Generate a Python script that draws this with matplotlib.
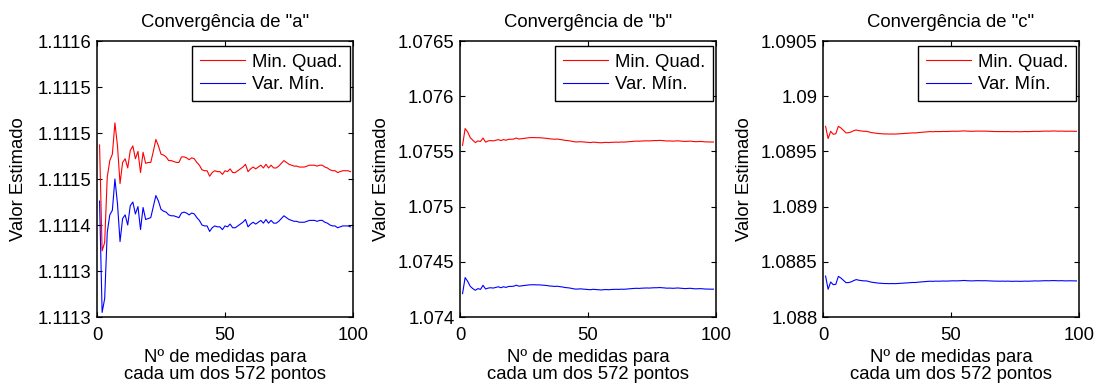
import matplotlib
matplotlib.use('Agg')
import matplotlib.pyplot as plt

plt.rcParams['font.family'] = ['Liberation Sans', 'DejaVu Sans']

# Estimativas de "a" (Min. Quad. e Var. Mín.)
a_min_quad = [
    1.111487, 1.111372, 1.111381, 1.111452, 1.111470, 1.111477, 1.111511, 1.111486, 1.111445, 1.111468,
    1.111472, 1.111462, 1.111481, 1.111486, 1.111472, 1.111480, 1.111457, 1.111479, 1.111467, 1.111468,
    1.111468, 1.111480, 1.111493, 1.111486, 1.111477, 1.111476, 1.111474, 1.111470, 1.111470, 1.111469,
    1.111468, 1.111468, 1.111474, 1.111474, 1.111473, 1.111471, 1.111473, 1.111472, 1.111468, 1.111465,
    1.111460, 1.111459, 1.111459, 1.111453, 1.111457, 1.111459, 1.111458, 1.111458, 1.111455, 1.111459,
    1.111458, 1.111461, 1.111457, 1.111457, 1.111459, 1.111461, 1.111463, 1.111466, 1.111458, 1.111461,
    1.111463, 1.111461, 1.111463, 1.111465, 1.111462, 1.111466, 1.111462, 1.111465, 1.111462, 1.111462,
    1.111464, 1.111467, 1.111470, 1.111468, 1.111466, 1.111465, 1.111464, 1.111464, 1.111463, 1.111463,
    1.111463, 1.111464, 1.111465, 1.111465, 1.111465, 1.111464, 1.111465, 1.111465, 1.111463, 1.111462,
    1.111460, 1.111459, 1.111459, 1.111457, 1.111458, 1.111459, 1.111459, 1.111459, 1.111458]
a_var_min = [
    1.111426, 1.111305, 1.111320, 1.111392, 1.111411, 1.111416, 1.111450, 1.111423, 1.111382, 1.111407,
    1.111411, 1.111400, 1.111421, 1.111425, 1.111412, 1.111420, 1.111395, 1.111419, 1.111406, 1.111407,
    1.111408, 1.111420, 1.111432, 1.111426, 1.111417, 1.111415, 1.111414, 1.111411, 1.111410, 1.111410,
    1.111409, 1.111408, 1.111413, 1.111414, 1.111413, 1.111411, 1.111413, 1.111412, 1.111408, 1.111405,
    1.111400, 1.111399, 1.111399, 1.111393, 1.111397, 1.111399, 1.111398, 1.111398, 1.111395, 1.111399,
    1.111398, 1.111401, 1.111397, 1.111397, 1.111399, 1.111401, 1.111403, 1.111406, 1.111398, 1.111401,
    1.111403, 1.111401, 1.111403, 1.111405, 1.111402, 1.111406, 1.111402, 1.111405, 1.111402, 1.111402,
    1.111404, 1.111407, 1.111410, 1.111408, 1.111406, 1.111405, 1.111404, 1.111404, 1.111403, 1.111403,
    1.111403, 1.111404, 1.111405, 1.111405, 1.111405, 1.111404, 1.111405, 1.111405, 1.111403, 1.111402,
    1.111400, 1.111399, 1.111399, 1.111397, 1.111398, 1.111399, 1.111399, 1.111399, 1.111398]

# Estimativas de "b"
b_min_quad = [
    1.075555, 1.075707, 1.075676, 1.075625, 1.075601, 1.075580, 1.075595, 1.075590, 1.075621, 1.075584,
    1.075595, 1.075598, 1.075595, 1.075601, 1.075607, 1.075598, 1.075607, 1.075601, 1.075610, 1.075610,
    1.075612, 1.075621, 1.075612, 1.075615, 1.075618, 1.075621, 1.075624, 1.075625, 1.075625, 1.075624,
    1.075624, 1.075622, 1.075620, 1.075618, 1.075614, 1.075612, 1.075610, 1.075612, 1.075608, 1.075605,
    1.075600, 1.075598, 1.075595, 1.075590, 1.075586, 1.075586, 1.075588, 1.075586, 1.075584, 1.075582,
    1.075580, 1.075584, 1.075582, 1.075580, 1.075578, 1.075580, 1.075582, 1.075580, 1.075582, 1.075583,
    1.075584, 1.075583, 1.075585, 1.075584, 1.075586, 1.075588, 1.075590, 1.075592, 1.075593, 1.075592,
    1.075594, 1.075595, 1.075596, 1.075595, 1.075597, 1.075598, 1.075598, 1.075600, 1.075598, 1.075596,
    1.075594, 1.075595, 1.075593, 1.075594, 1.075596, 1.075594, 1.075592, 1.075590, 1.075592, 1.075593,
    1.075590, 1.075588, 1.075589, 1.075590, 1.075588, 1.075586, 1.075586, 1.075585, 1.075585]
b_var_min = [
    1.074212, 1.074357, 1.074323, 1.074278, 1.074257, 1.074242, 1.074257, 1.074250, 1.074287, 1.074254,
    1.074262, 1.074265, 1.074262, 1.074268, 1.074274, 1.074265, 1.074274, 1.074268, 1.074277, 1.074277,
    1.074279, 1.074288, 1.074279, 1.074282, 1.074285, 1.074288, 1.074291, 1.074292, 1.074292, 1.074291,
    1.074291, 1.074289, 1.074287, 1.074285, 1.074281, 1.074279, 1.074277, 1.074279, 1.074275, 1.074272,
    1.074267, 1.074265, 1.074262, 1.074257, 1.074253, 1.074253, 1.074255, 1.074253, 1.074251, 1.074249,
    1.074247, 1.074251, 1.074249, 1.074247, 1.074245, 1.074247, 1.074249, 1.074247, 1.074249, 1.074250,
    1.074251, 1.074250, 1.074252, 1.074251, 1.074253, 1.074255, 1.074257, 1.074259, 1.074260, 1.074259,
    1.074261, 1.074262, 1.074263, 1.074262, 1.074264, 1.074265, 1.074265, 1.074267, 1.074265, 1.074263,
    1.074261, 1.074262, 1.074260, 1.074261, 1.074263, 1.074261, 1.074259, 1.074257, 1.074259, 1.074260,
    1.074257, 1.074255, 1.074256, 1.074257, 1.074255, 1.074253, 1.074253, 1.074252, 1.074252]

# Estimativas de "c"
c_min_quad = [
    1.089727, 1.089616, 1.089682, 1.089655, 1.089660, 1.089727, 1.089712, 1.089691, 1.089667, 1.089670,
    1.089676, 1.089688, 1.089694, 1.089688, 1.089685, 1.089682, 1.089682, 1.089676, 1.089670, 1.089667,
    1.089664, 1.089661, 1.089660, 1.089658, 1.089658, 1.089657, 1.089658, 1.089657, 1.089658, 1.089660,
    1.089661, 1.089663, 1.089664, 1.089666, 1.089668, 1.089667, 1.089670, 1.089672, 1.089674, 1.089676,
    1.089678, 1.089679, 1.089678, 1.089680, 1.089679, 1.089680, 1.089681, 1.089680, 1.089681, 1.089682,
    1.089683, 1.089682, 1.089683, 1.089684, 1.089686, 1.089684, 1.089683, 1.089682, 1.089683, 1.089684,
    1.089684, 1.089683, 1.089684, 1.089683, 1.089682, 1.089681, 1.089680, 1.089680, 1.089679, 1.089680,
    1.089679, 1.089680, 1.089679, 1.089678, 1.089679, 1.089679, 1.089678, 1.089679, 1.089680, 1.089679,
    1.089680, 1.089681, 1.089682, 1.089681, 1.089682, 1.089683, 1.089684, 1.089683, 1.089684, 1.089685,
    1.089684, 1.089683, 1.089684, 1.089683, 1.089682, 1.089683, 1.089683, 1.089682, 1.089682]
c_var_min = [
    1.088371, 1.088251, 1.088317, 1.088293, 1.088296, 1.088368, 1.088353, 1.088332, 1.088311, 1.088312,
    1.088318, 1.088330, 1.088339, 1.088333, 1.088330, 1.088327, 1.088327, 1.088321, 1.088315, 1.088312,
    1.088309, 1.088306, 1.088305, 1.088303, 1.088303, 1.088302, 1.088303, 1.088302, 1.088303, 1.088305,
    1.088306, 1.088308, 1.088309, 1.088311, 1.088313, 1.088312, 1.088315, 1.088317, 1.088319, 1.088321,
    1.088323, 1.088324, 1.088323, 1.088325, 1.088324, 1.088325, 1.088326, 1.088325, 1.088326, 1.088327,
    1.088328, 1.088327, 1.088328, 1.088329, 1.088331, 1.088329, 1.088328, 1.088327, 1.088328, 1.088329,
    1.088329, 1.088328, 1.088329, 1.088328, 1.088327, 1.088326, 1.088325, 1.088325, 1.088324, 1.088325,
    1.088324, 1.088325, 1.088324, 1.088323, 1.088324, 1.088324, 1.088323, 1.088324, 1.088325, 1.088324,
    1.088325, 1.088326, 1.088327, 1.088326, 1.088327, 1.088328, 1.088329, 1.088328, 1.088329, 1.088330,
    1.088329, 1.088328, 1.088329, 1.088328, 1.088327, 1.088328, 1.088328, 1.088327, 1.088327]

n_medidas = list(range(1, len(a_min_quad) + 1))

# Eixo y de cada parâmetro: ticks e rótulos como no original
a_yticks = [1.1113, 1.11135, 1.1114, 1.11145, 1.1115, 1.11155, 1.1116]
a_ylabels = ['1.1113', '1.1113', '1.1114', '1.1115', '1.1115', '1.1115', '1.1116']
b_yticks = [1.074, 1.0745, 1.075, 1.0755, 1.076, 1.0765]
b_ylabels = ['1.074', '1.0745', '1.075', '1.0755', '1.076', '1.0765']
c_yticks = [1.088, 1.0885, 1.089, 1.0895, 1.09, 1.0905]
c_ylabels = ['1.088', '1.0885', '1.089', '1.0895', '1.09', '1.0905']

xticks = [0, 50, 100]
nomes = ['a', 'b', 'c']

fs = 13.3
fig = plt.figure(figsize=(11.04, 3.88), dpi=100)

paineis = [
    (a_min_quad, a_var_min, a_yticks, a_ylabels),
    (b_min_quad, b_var_min, b_yticks, b_ylabels),
    (c_min_quad, c_var_min, c_yticks, c_ylabels),
]
lefts = [97, 460, 823]

for i, (mq, vm, yt, yl) in enumerate(paineis):
    ax = fig.add_axes([lefts[i] / 1104, 71 / 388, 256 / 1104, 276 / 388])
    ax.plot(n_medidas, mq, color='#ff0000', lw=0.8, label='Min. Quad.')
    ax.plot(n_medidas, vm, color='#0000ff', lw=0.8, label='Var. Mín.')
    ax.set_xlim(0, 100)
    ax.set_ylim(yt[0], yt[-1])
    ax.set_xticks(xticks)
    ax.set_xticklabels([str(t) for t in xticks])
    ax.set_yticks(yt)
    ax.set_yticklabels(yl)
    ax.tick_params(direction='in', top=True, right=True, length=3.5, width=0.8,
                   labelsize=fs, pad=4)
    ax.tick_params(axis='x', pad=7)
    for s in ax.spines.values():
        s.set_linewidth(1.1)
    ax.set_title('Convergência de "%s"' % nomes[i], fontsize=fs, pad=10)
    ax.set_xlabel('Nº de medidas para\ncada um dos 572 pontos', fontsize=fs, linespacing=1.0)
    ax.set_ylabel('Valor Estimado', fontsize=fs)
    ax.yaxis.set_label_coords(-0.273, 0.5)
    leg = ax.legend(loc='upper right', bbox_to_anchor=(0.988, 0.982), borderaxespad=0,
                    fontsize=fs, fancybox=False, framealpha=1, edgecolor='black',
                    handlelength=2.4, handletextpad=0.4, labelspacing=0.3, borderpad=0.42)
    leg.get_frame().set_linewidth(1.0)

plt.savefig('out.png', dpi=100)
